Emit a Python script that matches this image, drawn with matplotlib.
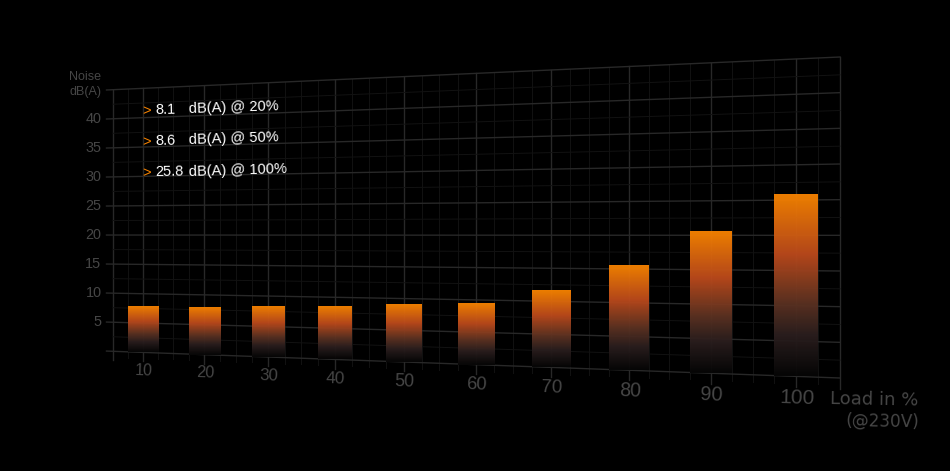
from __future__ import annotations

import numpy as np
import matplotlib

matplotlib.use("Agg")
import matplotlib.pyplot as plt
from matplotlib.colors import LinearSegmentedColormap
from matplotlib.transforms import Transform


BG_COLOR = "#000000"
MAJOR_COLOR = "#282828"
MINOR_COLOR = "#121212"
LABEL_COLOR = "#464646"
ORANGE = "#f88400"

LOADS = [10, 20, 30, 40, 50, 60, 70, 80, 90, 100]
NOISE_DB = [7.75, 8.0, 8.25, 8.5, 9.05, 9.5, 11.6, 15.5, 20.5, 25.8]
NOISE_TICKS = [5, 10, 15, 20, 25, 30, 35, 40]
NOTE_VALUES = ["8.1", "8.6", "25.8"]
NOTE_TEXTS = ["dB(A) @ 20%", "dB(A) @ 50%", "dB(A) @ 100%"]

plt.rcParams["font.family"] = ["Liberation Sans", "DejaVu Sans"]


class Perspective(Transform):
    """Load/noise plane to picture pixels, the grid is tilted away on the left."""

    input_dims = 2
    output_dims = 2

    def __init__(self, source, target):
        super().__init__()
        rows, rhs = [], []
        for (u, v), (x, y) in zip(source, target):
            rows.append([u, v, 1, 0, 0, 0, -u * x, -v * x])
            rows.append([0, 0, 0, u, v, 1, -u * y, -v * y])
            rhs += [x, y]
        self.h = np.append(np.linalg.solve(rows, rhs), 1).reshape(3, 3)

    def transform_non_affine(self, values):
        pts = np.asarray(values, dtype=float)
        full = np.column_stack([pts, np.ones(len(pts))]) @ self.h.T
        return full[:, :2] / full[:, 2:]


persp = Perspective(
    [(5, 0), (5, 45), (105, 0), (105, 45)],
    [(113, 351.3), (113, 89.7), (840, 378), (840, 57)],
)


def scale_at(load: float) -> float:
    low = persp.transform_non_affine(np.array([[load, 0.0], [load, 45.0]]))
    return abs(low[0, 1] - low[1, 1])


fig = plt.figure(figsize=(9.5, 4.71), dpi=100, facecolor=BG_COLOR)
ax = fig.add_axes([0, 0, 1, 1])
ax.set_facecolor(BG_COLOR)
ax.axis("off")
plane = persp + ax.transData

# grid
for i in range(41):
    load = 5 + i * 2.5
    major = i % 4 == 2 or load in (5, 105)
    ax.plot(
        [load, load],
        [-1.5 if major else -1.0, 45],
        color=MAJOR_COLOR if major else MINOR_COLOR,
        lw=1.0 if major else 0.7,
        transform=plane,
        zorder=1,
    )
for i in range(19):
    level = i * 2.5
    major = i % 2 == 0
    ax.plot(
        [3.9 if major else 5, 105],
        [level, level],
        color=MAJOR_COLOR if major else MINOR_COLOR,
        lw=1.0 if major else 0.7,
        transform=plane,
        zorder=1,
    )

# bars stay square to the picture, only their size follows the grid
bar_cmap = LinearSegmentedColormap.from_list(
    "bar",
    [
        (0.0, ORANGE),
        (0.33, "#bc4a1c"),
        (0.6, "#5c3222"),
        (0.78, "#2a1e1e"),
        (1.0, "#060606"),
    ],
)
ramp = np.linspace(0, 1, 256)[:, None]
for load, noise in zip(LOADS, NOISE_DB):
    corners = persp.transform_non_affine(
        np.array([[load - 2.5, 0.0], [load + 2.5, 0.0], [load, 0.0], [load, noise]])
    )
    ax.imshow(
        ramp,
        cmap=bar_cmap,
        extent=(corners[0, 0], corners[1, 0], corners[2, 1], corners[3, 1]),
        origin="upper",
        aspect="auto",
        alpha=0.96,
        zorder=2,
    )

ax.set_xlim(0, 950)
ax.set_ylim(471, 0)

# x labels get bigger towards the front
base_scale = scale_at(LOADS[0])
for load in LOADS:
    ax.text(
        load + 0.1,
        -3.1,
        str(load),
        transform=plane,
        color=LABEL_COLOR,
        fontsize=11.4 * (scale_at(load) / base_scale) ** 1.5,
        ha="center",
        va="center",
        rotation=-2,
        rotation_mode="anchor",
    )

for tick in NOISE_TICKS:
    ax.text(
        3.05,
        tick,
        str(tick),
        transform=plane,
        color=LABEL_COLOR,
        fontsize=10.4,
        ha="right",
        va="center",
    )

ax.text(101, 80, "Noise", color=LABEL_COLOR, fontsize=9, ha="right", va="baseline")
ax.text(101, 94.5, "dB(A)", color=LABEL_COLOR, fontsize=9, ha="right", va="baseline")

note_base = [113.8, 144.7, 176]
for base, value, note in zip(note_base, NOTE_VALUES, NOTE_TEXTS):
    ax.text(142.5, base + 1, ">", color=ORANGE, fontsize=10.5, ha="left", va="baseline")
    ax.text(155, base, value, color="white", fontsize=10.5, ha="left", va="baseline",
            rotation=1, rotation_mode="anchor")
    ax.text(188.7, base - 0.4, note, color="white", fontsize=10.5, ha="left", va="baseline",
            rotation=1.8, rotation_mode="anchor")

ax.text(918, 406, "Load in %", color=LABEL_COLOR, fontsize=13, family="DejaVu Sans",
        ha="right", va="baseline", rotation=-1, rotation_mode="anchor")
ax.text(919, 427, "(@230V)", color=LABEL_COLOR, fontsize=12.2, family="DejaVu Sans",
        ha="right", va="baseline", rotation=-1, rotation_mode="anchor")

fig.savefig("out.png", dpi=100, facecolor=BG_COLOR)
plt.close(fig)
